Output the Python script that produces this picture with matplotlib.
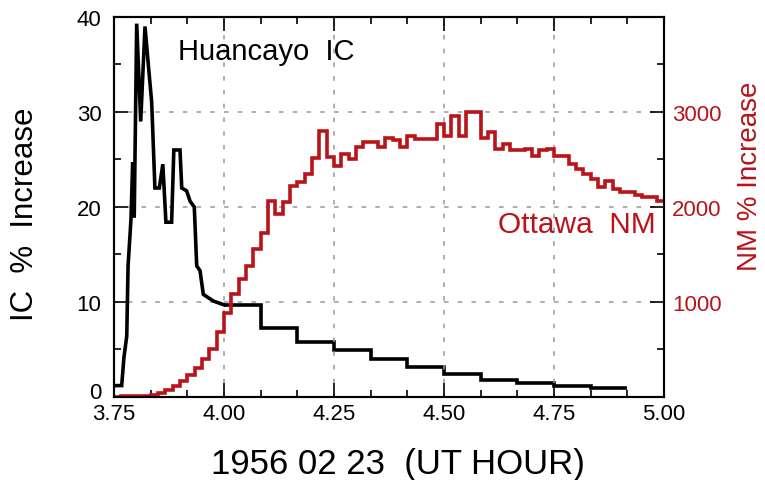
import numpy as np
import matplotlib
matplotlib.use("Agg")
import matplotlib.pyplot as plt
import matplotlib.transforms as mtransforms
from matplotlib.ticker import MultipleLocator

# Huancayo ionization chamber, fine-resolution rise (UT hour, % increase)
ic_fine_t = [3.751, 3.7675, 3.7727, 3.7790, 3.7820, 3.7886, 3.7925, 3.7960,
             3.8016, 3.8107, 3.8205, 3.8280, 3.8357, 3.8430, 3.8530, 3.8610,
             3.8680, 3.8810, 3.8860, 3.9000, 3.9040, 3.9150, 3.9230, 3.9325,
             3.9380, 3.9455, 3.9530, 3.9757, 4.0000]
ic_fine_v = [1.2, 1.2, 4.2, 6.4, 13.8, 18.7, 24.7, 18.9,
             39.3, 29.0, 39.0, 35.0, 31.0, 22.0, 22.0, 24.5,
             18.4, 18.4, 26.0, 26.0, 22.0, 21.7, 20.6, 20.0,
             13.8, 13.3, 10.8, 10.1, 9.7]

# Huancayo IC, 5-minute averages after 04:00 UT
ic_5min_edges = 4.0 + np.arange(12) / 12.0
ic_5min_v = [9.7, 7.3, 5.75, 4.9, 3.95, 3.15, 2.45, 1.8, 1.45, 1.2, 0.9]

# Ottawa neutron monitor, 1-minute values from 03:45 to 05:00 UT
nm_edges = 3.75 + np.arange(76) / 60.0
nm_v = [0, 15, 10, 10, 15, 25, 45, 75, 115, 165,
        230, 310, 400, 510, 680, 880, 1080, 1240, 1380, 1560,
        1730, 2065, 1930, 2050, 2225, 2260, 2350, 2520, 2800, 2530,
        2435, 2560, 2500, 2630, 2680, 2680, 2630, 2730, 2700, 2630,
        2750, 2715, 2715, 2715, 2875, 2750, 2960, 2750, 3000, 3000,
        2730, 2785, 2610, 2660, 2595, 2595, 2610, 2540, 2595, 2610,
        2540, 2540, 2455, 2400, 2345, 2295, 2210, 2275, 2190, 2155,
        2155, 2130, 2100, 2100, 2065]

x_ticks = [3.75, 4.00, 4.25, 4.50, 4.75, 5.00]
ic_ticks = [0, 10, 20, 30, 40]
nm_ticks = [1000, 2000, 3000]

RED = "#b8141a"
plt.rcParams["font.family"] = ["Liberation Sans", "DejaVu Sans"]

fig = plt.figure(figsize=(7.65, 4.81), dpi=100)
ax = fig.add_axes([0.149, 0.1726, 0.719, 0.79])

ax.plot(ic_fine_t, ic_fine_v, color="black", lw=2.6, solid_joinstyle="miter")
ax.stairs(ic_5min_v, ic_5min_edges, color="black", lw=2.6, baseline=None)

ax.set_xlim(3.75, 5.0)
ax.set_ylim(0, 40)
ax.set_xticks(x_ticks)
ax.set_xticklabels([f"{t:.2f}" for t in x_ticks])
ax.set_yticks(ic_ticks)
ax.xaxis.set_minor_locator(MultipleLocator(1 / 12))
ax.yaxis.set_minor_locator(MultipleLocator(5))
ax.tick_params(which="both", direction="in", top=True, width=1.2, labelsize=16)
ax.tick_params(which="major", length=10)
ax.tick_params(which="minor", length=5)
ax.tick_params(axis="y", pad=9)
ax.tick_params(axis="x", pad=4)
ax.grid(True, which="major", color="#999999", lw=1.1, linestyle=(0, (3, 6)))
for s in ax.spines.values():
    s.set_linewidth(1.5)

# lift the "0" label a little so it sits above "3.75"
zero_lbl = ax.get_yticklabels()[0]
zero_lbl.set_transform(zero_lbl.get_transform() +
                       mtransforms.ScaledTranslation(0, 5 / 72, fig.dpi_scale_trans))

ax2 = ax.twinx()
ax2.stairs(nm_v, nm_edges, color=RED, lw=2.6, baseline=None)
ax2.set_ylim(0, 4000)
ax2.set_yticks(nm_ticks)
ax2.yaxis.set_minor_locator(MultipleLocator(500))
ax2.tick_params(which="both", direction="in", width=1.2, labelsize=16,
                labelcolor=RED, pad=6)
ax2.tick_params(which="major", length=10)
ax2.tick_params(which="minor", length=5)
for s in ax2.spines.values():
    s.set_linewidth(1.5)

ax.text(0.117, 0.91, "Huancayo  IC", transform=ax.transAxes, fontsize=21,
        va="center", ha="left")
ax2.text(0.698, 0.455, "Ottawa  NM", transform=ax.transAxes, fontsize=21.5,
         color=RED, va="center", ha="left")

fig.text(0.033, 0.555, "IC  %  Increase", rotation=90, fontsize=22.5,
         ha="center", va="center")
fig.text(0.981, 0.634, "NM % Increase", rotation=90, fontsize=20,
         ha="center", va="center", color=RED)
fig.text(0.52, 0.034, "1956 02 23  (UT HOUR)", fontsize=25,
         ha="center", va="center")

fig.savefig("out.png", dpi=100)
